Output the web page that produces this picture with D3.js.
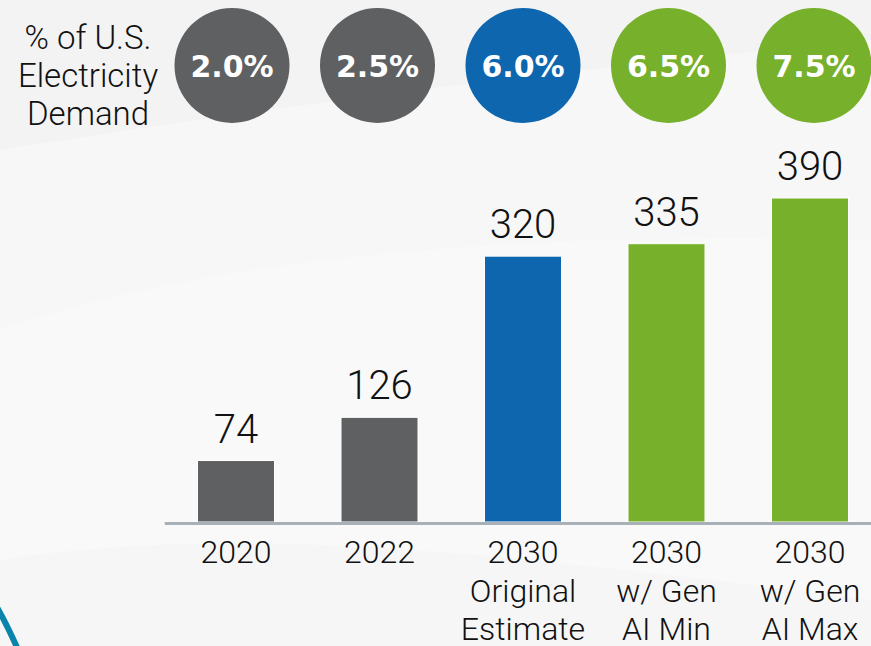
<!DOCTYPE html>
<html>
<head>
<meta charset="utf-8">
<script src="https://cdn.jsdelivr.net/npm/d3@7"></script>
<style>
  html, body { margin: 0; padding: 0; background: #f5f5f5; }
  svg { display: block; }
</style>
</head>
<body>
<svg id="chart" width="871" height="646"></svg>
<script>
// ---- data ----
const categories = ["2020", "2022", "2030 Original Estimate", "2030 w/ Gen AI Min", "2030 w/ Gen AI Max"];
const categoryLines = [["2020"], ["2022"], ["2030", "Original", "Estimate"], ["2030", "w/ Gen", "AI Min"], ["2030", "w/ Gen", "AI Max"]];
const values = [74, 126, 320, 335, 390];
const shareLabels = ["2.0%", "2.5%", "6.0%", "6.5%", "7.5%"];
const seriesGroup = ["actual", "actual", "original", "genai", "genai"];
const sideLabel = ["% of U.S.", "Electricity", "Demand"];

const colors = { actual: "#5f6062", original: "#0d66ae", genai: "#77b02a" };

const W = 871, H = 646;
const svg = d3.select("#chart");

// ---- background ----
const bg = svg.append("g");
bg.append("rect").attr("width", W).attr("height", H).attr("fill", "#f3f3f3");
bg.append("path")
  .attr("d", "M0,150 C250,110 550,70 871,40 L871,646 L0,646 Z")
  .attr("fill", "#ffffff").attr("opacity", 0.35);
bg.append("path")
  .attr("d", "M0,330 C200,260 500,230 871,240 L871,646 L0,646 Z")
  .attr("fill", "#ffffff").attr("opacity", 0.3);
bg.append("path")
  .attr("d", "M0,560 C250,520 550,560 871,600 L871,646 L0,646 Z")
  .attr("fill", "#f3f3f3").attr("opacity", 0.5);
// teal arc bottom-left
bg.append("path")
  .attr("d", "M-6,602 Q7,624 19,652")
  .attr("fill", "none").attr("stroke", "#0a84aa").attr("stroke-width", 6);

// ---- scales ----
const x = d3.scaleBand().domain(categories).range([164.25, 881.75])
  .paddingInner(0.4634).paddingOuter(0.2317);
const cx = d3.scalePoint().domain(categories).range([232, 814]);
const y = d3.scaleLinear().domain([0, 390]).range([522, 198]);

const lightFont = "Roboto, 'Open Sans', sans-serif";

// ---- bars ----
svg.append("g").selectAll("rect").data(categories).join("rect")
  .attr("x", d => x(d))
  .attr("y", (d, i) => y(values[i]))
  .attr("width", x.bandwidth())
  .attr("height", (d, i) => y(0) - y(values[i]))
  .attr("fill", (d, i) => colors[seriesGroup[i]])
  .attr("stroke", "#ffffff").attr("stroke-width", 1);

// ---- value labels ----
svg.append("g").selectAll("text").data(categories).join("text")
  .attr("x", d => x(d) + x.bandwidth() / 2)
  .attr("y", (d, i) => y(values[i]) - 18)
  .attr("text-anchor", "middle")
  .attr("font-family", lightFont).attr("font-weight", 300)
  .attr("font-size", 40).attr("fill", "#111")
  .text((d, i) => values[i]);

// ---- axis ----
const axis = svg.append("g").attr("transform", `translate(0,${y(0) + 1})`)
  .call(d3.axisBottom(x).tickSize(0).tickPadding(0));
axis.select(".domain").attr("stroke", "#a8b0b8").attr("stroke-width", 3);
axis.selectAll(".tick text").each(function(d, i) {
  const t = d3.select(this);
  t.text(null).attr("y", 0).attr("dy", null)
    .attr("font-family", lightFont).attr("font-weight", 300)
    .attr("font-size", 32).attr("fill", "#111");
  categoryLines[i].forEach((ln, j) => {
    t.append("tspan").attr("x", 0).attr("y", 40 + j * 38.5).text(ln);
  });
});

// ---- share circles ----
const circ = svg.append("g");
circ.selectAll("circle").data(categories).join("circle")
  .attr("cx", d => cx(d)).attr("cy", 65.5).attr("r", 57.5)
  .attr("fill", (d, i) => colors[seriesGroup[i]]);
circ.selectAll("text").data(categories).join("text")
  .attr("x", d => cx(d)).attr("y", 76.5)
  .attr("text-anchor", "middle")
  .attr("font-family", "'DejaVu Sans', sans-serif").attr("font-weight", 700)
  .attr("font-size", 30).attr("fill", "#ffffff")
  .text((d, i) => shareLabels[i]);

// ---- side label ----
svg.append("text")
  .attr("text-anchor", "middle")
  .attr("font-family", lightFont).attr("font-weight", 300)
  .attr("font-size", 33).attr("fill", "#111")
  .selectAll("tspan").data(sideLabel).join("tspan")
  .attr("x", 88).attr("y", (d, i) => 49 + i * 38)
  .text(d => d);
</script>
</body>
</html>
